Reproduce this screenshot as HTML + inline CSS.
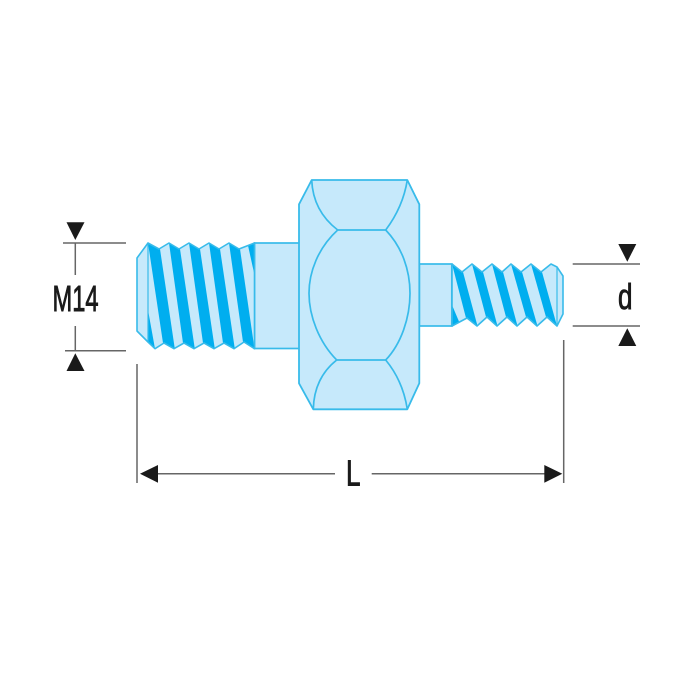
<!DOCTYPE html>
<html>
<head>
<meta charset="utf-8">
<style>
html,body{margin:0;padding:0;background:#fff;width:700px;height:700px;overflow:hidden}
svg{display:block}
text{font-family:"Liberation Sans",sans-serif;fill:#1a1a1a;stroke:#1a1a1a;stroke-width:.9}
</style>
</head>
<body>
<svg width="700" height="700" viewBox="0 0 700 700" xmlns="http://www.w3.org/2000/svg">
<rect width="700" height="700" fill="#fff"/>

<!-- left neck -->
<rect x="254.5" y="243" width="45" height="105.5" fill="#c6e9fb" stroke="#38bbea" stroke-width="1.7"/>

<!-- left thread -->
<polygon points="137,258 148,243 159,249 169,243 179,249 189,243 199,249 209,243 219,249 229,243 239,249 254.5,243 254.5,348.7 244,342 234,348.7 224,343 214,348.7 204,343 194,348.7 184,343 174,348.7 164,343 155,348.7 148,342 137,331" fill="#c6e9fb"/>
<g fill="#00aeef">
<polygon points="148,243 160,249 174.8,348.7 163,343"/>
<polygon points="169,243 180,249 194.8,348.7 183,343"/>
<polygon points="189,243 200,249 214.8,348.7 203,343"/>
<polygon points="209,243 220,249 234.8,348.7 223,343"/>
<polygon points="229,243 240,249 254.5,348.7 243,342"/>
<polygon points="148,310 155,348.7 148,342"/>
<polygon points="248,245.5 254.5,243 254.5,275"/>
</g>
<polygon points="137,258 148,243 159,249 169,243 179,249 189,243 199,249 209,243 219,249 229,243 239,249 254.5,243 254.5,348.7 244,342 234,348.7 224,343 214,348.7 204,343 194,348.7 184,343 174,348.7 164,343 155,348.7 148,342 137,331" fill="none" stroke="#38bbea" stroke-width="1.6" stroke-linejoin="round"/>
<line x1="148" y1="243" x2="148" y2="342" stroke="#38bbea" stroke-width="1.2"/>

<!-- right neck -->
<rect x="419.3" y="264" width="32.5" height="62" fill="#c6e9fb" stroke="#38bbea" stroke-width="1.7"/>

<!-- right thread -->
<polygon points="452,264 462,272 472,264 482,272 492,264 502,272 511,264 521,272 531,264 541,272 551,264 557,267 563,276 563,314 557,326 547,317 537,326 527,317 517,326 507,317 497,326 487,317 477,326 467,318 452,326" fill="#c6e9fb"/>
<g fill="#00aeef">
<polygon points="452,264 463,272 477.5,326 466,318"/>
<polygon points="472,264 483,272 497.5,326 486,317"/>
<polygon points="492,264 503,272 517.5,326 506,317"/>
<polygon points="511,264 522,272 537.5,326 526,317"/>
<polygon points="531,264 542,272 557,326 546,317"/>
<polygon points="452,305 459,321.5 452,326"/>
</g>
<polygon points="452,264 462,272 472,264 482,272 492,264 502,272 511,264 521,272 531,264 541,272 551,264 557,267 563,276 563,314 557,326 547,317 537,326 527,317 517,326 507,317 497,326 487,317 477,326 467,318 452,326" fill="none" stroke="#38bbea" stroke-width="1.6" stroke-linejoin="round"/>
<line x1="557" y1="267" x2="557" y2="326" stroke="#38bbea" stroke-width="1.2"/>

<!-- nut -->
<polygon points="311.7,180 407.3,180 419.3,204.3 419.3,383.3 407.3,409.3 313.3,409.3 299,383.3 299,204.3" fill="#c6e9fb" stroke="#38bbea" stroke-width="1.8" stroke-linejoin="round"/>
<g fill="none" stroke="#38bbea" stroke-width="1.7">
<line x1="337.7" y1="230" x2="385.7" y2="230"/>
<line x1="336.7" y1="360" x2="385.7" y2="360"/>
<path d="M311.7,180 Q313,211 337.7,230"/>
<path d="M407.3,180 Q403,207 385.7,230"/>
<path d="M313.3,409.3 Q314,378 336.7,360"/>
<path d="M407.3,409.3 Q403,381 385.7,360"/>
<path d="M337.7,230 C318,248 309,272 309,293.3 C309,316 319,342 336.7,360"/>
<path d="M385.7,230 C402,247 410,270 410,293.3 C410,318 401,344 385.7,360"/>
</g>

<!-- dimension lines -->
<g stroke="#666" stroke-width="1.5" fill="none">
<line x1="63" y1="243" x2="126" y2="243"/>
<line x1="65" y1="350.7" x2="126" y2="350.7"/>
<line x1="75.3" y1="243" x2="75.3" y2="275"/>
<line x1="75.3" y1="326" x2="75.3" y2="351"/>
<line x1="572.7" y1="264" x2="640" y2="264"/>
<line x1="572.7" y1="326" x2="640" y2="326"/>
<line x1="137" y1="364" x2="137" y2="483"/>
<line x1="563.7" y1="340" x2="563.7" y2="483"/>
<line x1="158" y1="473.7" x2="335" y2="473.7"/>
<line x1="371.7" y1="473.7" x2="545" y2="473.7"/>
</g>

<!-- arrowheads -->
<g fill="#1a1a1a">
<polygon points="66.5,222.3 84.5,222.3 75.3,240"/>
<polygon points="66.5,371 84.5,371 75.3,353.3"/>
<polygon points="618.3,244 636.3,244 627.3,261.7"/>
<polygon points="618.3,346 636.3,346 627.3,328.3"/>
<polygon points="140,473.7 158,465 158,482.7"/>
<polygon points="544.3,465 562.3,473.7 544.3,482.7"/>
</g>

<!-- labels -->
<text x="52.5" y="311" font-size="36" textLength="46" lengthAdjust="spacingAndGlyphs">M14</text>
<text x="618" y="309" font-size="36" textLength="14.5" lengthAdjust="spacingAndGlyphs">d</text>
<text x="346" y="485.3" font-size="36" textLength="14.5" lengthAdjust="spacingAndGlyphs">L</text>
</svg>
</body>
</html>
